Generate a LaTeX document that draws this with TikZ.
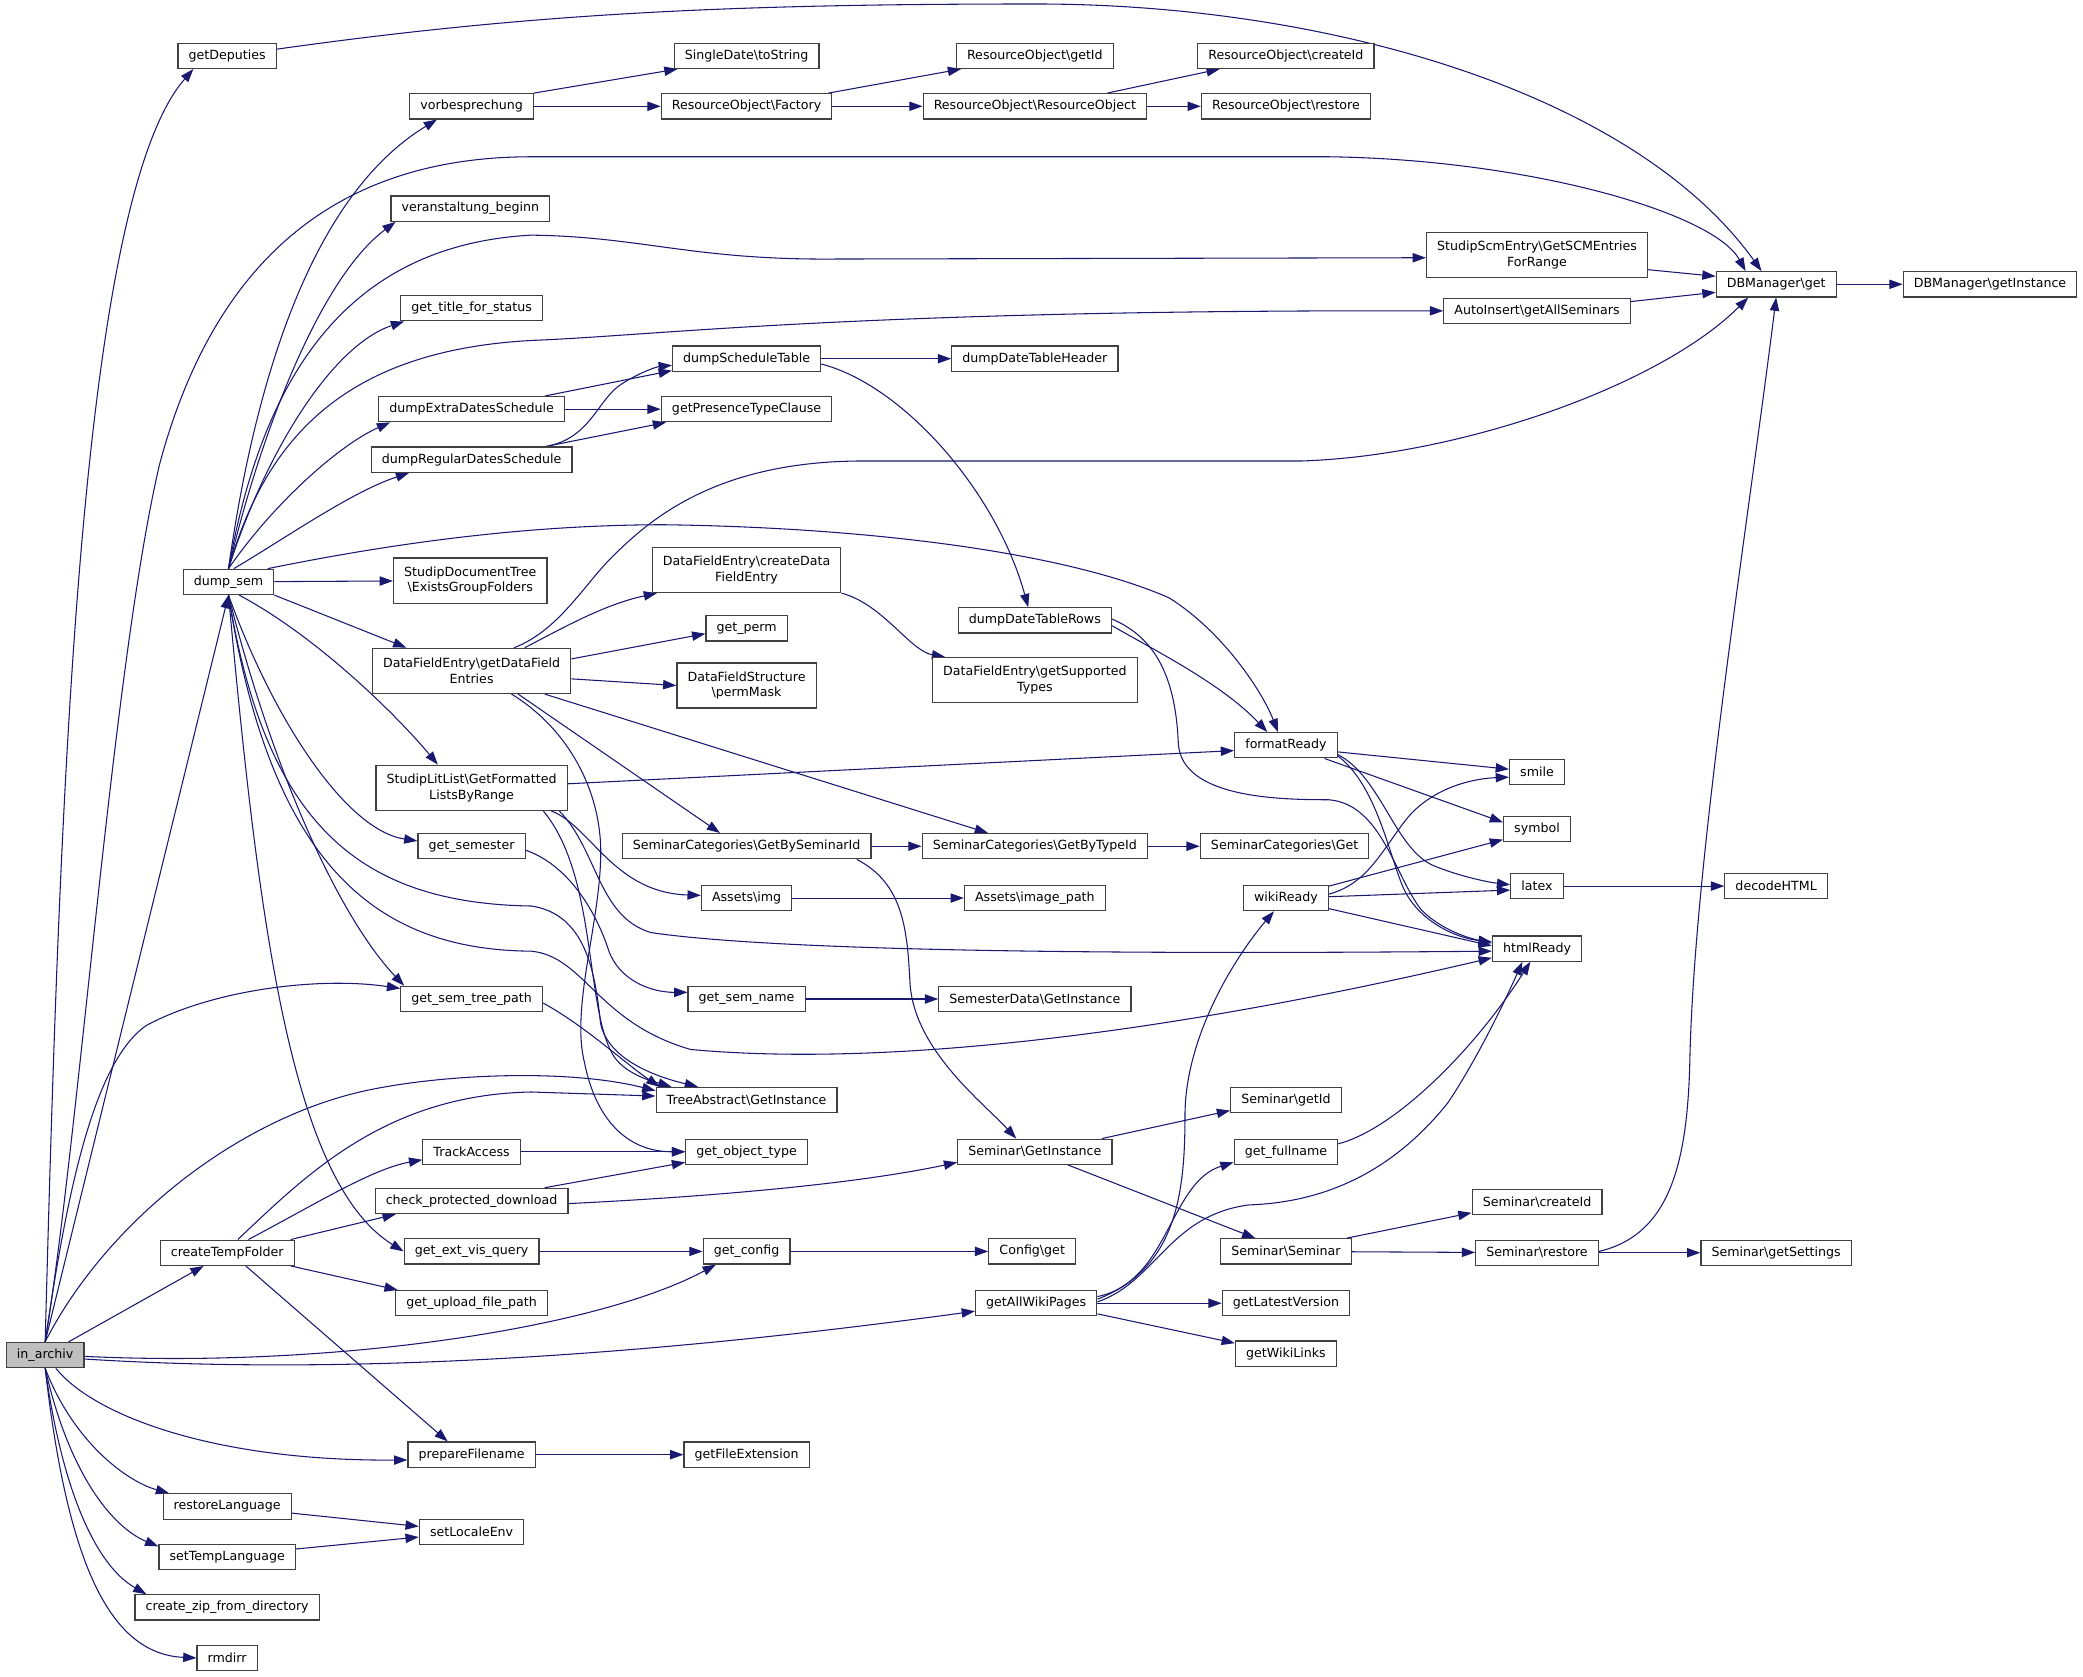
\documentclass[tikz,border=0pt]{standalone}
\usepackage{fontspec}
\setmainfont{DejaVu Sans}
\usepackage{tikz}
\usetikzlibrary{arrows.meta,positioning,backgrounds}
\definecolor{edgeblue}{RGB}{25,25,112}
\definecolor{callergray}{RGB}{191,191,191}
\newcommand{\bsl}{\textbackslash}
\tikzset{
  fn/.style={draw=black!75, line width=0.9pt, fill=white, inner xsep=8pt, inner ysep=2pt,
    minimum height=19pt, font=\fontsize{9.5}{12}\selectfont},
  fntwo/.style={fn, align=center, minimum height=34pt},
  call/.style={edgeblue, line width=0.8pt, -{Triangle[length=10pt,width=7pt]}},
}
\begin{document}
\begin{tikzpicture}[x=1pt,y=-1pt]
\useasboundingbox (0,0) rectangle (1568,1262);

	\node[fn,fill=callergray] (inarchiv) at (34,1020) {in\_archiv};

	\node[fn] (getDeputies) at (171,42) {getDeputies};
	\node[fn] (dumpsem) at (172,438) {dump\_sem};
	\node[fn] (createTempFolder) at (171,943) {createTempFolder};
	\node[fn] (restoreLanguage) at (171,1134) {restoreLanguage};
	\node[fn] (setTempLanguage) at (171,1172) {setTempLanguage};
	\node[fn] (createzip) at (171,1210) {create\_zip\_from\_directory};
	\node[fn] (rmdirr) at (171,1248) {rmdirr};

	\node[fn] (vorbesprechung) at (355,80) {vorbesprechung};
	\node[fn] (vbeginn) at (354,157) {veranstaltung\_beginn};
	\node[fn] (titlestatus) at (355,232) {get\_title\_for\_status};
	\node[fn] (extradates) at (355,308) {dumpExtraDatesSchedule};
	\node[fn] (regulardates) at (355,346) {dumpRegularDatesSchedule};
	\node[fntwo] (groupfolders) at (354,437) {StudipDocumentTree\\\bsl ExistsGroupFolders};
	\node[fntwo] (dfentries) at (355,505) {DataFieldEntry\bsl getDataField\\Entries};
	\node[fntwo] (litlist) at (355,593) {StudipLitList\bsl GetFormatted\\ListsByRange};
	\node[fn] (getsemester) at (355,637) {get\_semester};
	\node[fn] (semtreepath) at (355,752) {get\_sem\_tree\_path};
	\node[fn] (trackaccess) at (355,867) {TrackAccess};
	\node[fn] (checkdownload) at (355,904) {check\_protected\_download};
	\node[fn] (extvisquery) at (355,942) {get\_ext\_vis\_query};
	\node[fn] (uploadpath) at (355,981) {get\_upload\_file\_path};
	\node[fn] (preparefn) at (355,1095) {prepareFilename};
	\node[fn] (setlocale) at (355,1153) {setLocaleEnv};

	\node[fn] (toString) at (562,42) {SingleDate\bsl toString};
	\node[fn] (roFactory) at (562,80) {ResourceObject\bsl Factory};
	\node[fn] (scheduletable) at (562,270) {dumpScheduleTable};
	\node[fn] (presenceclause) at (562,308) {getPresenceTypeClause};
	\node[fntwo] (createdfe) at (562,429) {DataFieldEntry\bsl createData\\FieldEntry};
	\node[fn] (getperm) at (562,473) {get\_perm};
	\node[fntwo] (permmask) at (562,516) {DataFieldStructure\\\bsl permMask};
	\node[fn] (catbysem) at (562,637) {SeminarCategories\bsl GetBySeminarId};
	\node[fn] (assetsimg) at (562,676) {Assets\bsl img};
	\node[fn] (semname) at (562,752) {get\_sem\_name};
	\node[fn] (treeinst) at (562,828) {TreeAbstract\bsl GetInstance};
	\node[fn] (objecttype) at (562,867) {get\_object\_type};
	\node[fn] (getconfig) at (562,942) {get\_config};
	\node[fn] (fileext) at (562,1095) {getFileExtension};

	\node[fn] (roGetId) at (779,42) {ResourceObject\bsl getId};
	\node[fn] (roRO) at (779,80) {ResourceObject\bsl ResourceObject};
	\node[fn] (tableheader) at (779,270) {dumpDateTableHeader};
	\node[fn] (tablerows) at (779,467) {dumpDateTableRows};
	\node[fntwo] (supportedtypes) at (779,512) {DataFieldEntry\bsl getSupported\\Types};
	\node[fn] (catbytype) at (779,637) {SeminarCategories\bsl GetByTypeId};
	\node[fn] (imagepath) at (779,676) {Assets\bsl image\_path};
	\node[fn] (semdata) at (779,752) {SemesterData\bsl GetInstance};
	\node[fn] (seminst) at (779,867) {Seminar\bsl GetInstance};
	\node[fn] (configget) at (777,942) {Config\bsl get};
	\node[fn] (wikipages) at (780,981) {getAllWikiPages};

	\node[fn] (roCreateId) at (968,42) {ResourceObject\bsl createId};
	\node[fn] (roRestore) at (968,80) {ResourceObject\bsl restore};
	\node[fn] (formatready) at (968,561) {formatReady};
	\node[fn] (catget) at (967,637) {SeminarCategories\bsl Get};
	\node[fn] (wikiready) at (968,676) {wikiReady};
	\node[fn] (semgetid) at (968,828) {Seminar\bsl getId};
	\node[fn] (fullname) at (968,867) {get\_fullname};
	\node[fn] (semsem) at (968,942) {Seminar\bsl Seminar};
	\node[fn] (latestversion) at (968,981) {getLatestVersion};
	\node[fn] (wikilinks) at (968,1019) {getWikiLinks};

	\node[fntwo] (scmentries) at (1157,192) {StudipScmEntry\bsl GetSCMEntries\\ForRange};
	\node[fn] (allseminars) at (1157,234) {AutoInsert\bsl getAllSeminars};
	\node[fn] (smile) at (1157,581) {smile};
	\node[fn] (symbol) at (1157,624) {symbol};
	\node[fn] (latex) at (1157,667) {latex};
	\node[fn] (htmlready) at (1157,714) {htmlReady};
	\node[fn] (semcreateid) at (1157,905) {Seminar\bsl createId};
	\node[fn] (semrestore) at (1157,943) {Seminar\bsl restore};

	\node[fn] (dbget) at (1337,214) {DBManager\bsl get};
	\node[fn] (decodehtml) at (1337,667) {decodeHTML};
	\node[fn] (settings) at (1337,943) {Seminar\bsl getSettings};
	\node[fn] (dbinst) at (1498,214) {DBManager\bsl getInstance};

\begin{scope}[on background layer]
	% calls of in_archiv
	\draw[call] (inarchiv.north) .. controls (45,600) and (60,150) .. ([xshift=12pt]getDeputies.south west);
	\draw[call] (inarchiv.north) -- (dumpsem.south);
	\draw[call] (inarchiv.north) .. controls (60,850) and (85,500) .. (120,350) .. controls (160,200) and (250,118) .. (400,118) -- (1000,118) .. controls (1150,120) and (1290,160) .. ([xshift=-23pt]dbget.north);
	\draw[call] (inarchiv.north) .. controls (50,900) and (70,800) .. (110,772) .. controls (160,745) and (240,735) .. ([yshift=-2pt]semtreepath.north west);
	\draw[call] (inarchiv.north) .. controls (80,920) and (180,840) .. (280,820) .. controls (340,808) and (430,805) .. ([yshift=-3pt]treeinst.north west);
	\draw[call] (inarchiv) -- (createTempFolder);
	\draw[call] ([yshift=-1pt]inarchiv.east) .. controls (250,1030) and (450,1000) .. ([xshift=10pt]getconfig.south west);
	\draw[call] ([yshift=-3pt]inarchiv.east) .. controls (300,1038) and (550,1012) .. ([yshift=-6pt]wikipages.west);
	\draw[call] ([xshift=8pt]inarchiv.south) .. controls (70,1065) and (160,1100) .. ([yshift=-4pt]preparefn.west);
	\draw[call] (inarchiv.south) .. controls (55,1085) and (95,1115) .. ([xshift=5pt]restoreLanguage.north west);
	\draw[call] (inarchiv.south) .. controls (52,1110) and (85,1150) .. ([yshift=-2pt]setTempLanguage.north west);
	\draw[call] (inarchiv.south) .. controls (48,1130) and (75,1180) .. ([xshift=9pt]createzip.north west);
	\draw[call] (inarchiv.south) .. controls (50,1170) and (80,1245) .. (rmdirr.west);

	\draw[call] ([yshift=5pt]getDeputies.east) .. controls (400,10) and (550,3) .. (780,3) .. controls (1000,3) and (1230,70) .. ([xshift=-11pt]dbget.north);

	% calls of dump_sem
	\draw[call] (dumpsem.north) .. controls (190,300) and (230,150) .. ([xshift=-26pt]vorbesprechung.south);
	\draw[call] (dumpsem.north) .. controls (195,330) and (240,210) .. ([xshift=4pt]vbeginn.south west);
	\draw[call] (dumpsem.north) .. controls (195,300) and (250,185) .. (400,177) .. controls (480,178) and (520,195) .. (620,195) -- ([yshift=-2pt]scmentries.west);
	\draw[call] (dumpsem.north) .. controls (200,340) and (250,260) .. ([xshift=3pt]titlestatus.south west);
	\draw[call] (dumpsem.north) .. controls (200,330) and (260,262) .. (406,256) .. controls (500,252) and (650,233) .. (allseminars.west);
	\draw[call] (dumpsem.north) .. controls (205,380) and (255,335) .. ([xshift=9pt]extradates.south west);
	\draw[call] ([xshift=4pt]dumpsem.north) .. controls (215,405) and (265,370) .. ([xshift=29pt]regulardates.south west);
	\draw[call] ([xshift=-5pt]dumpsem.north east) .. controls (300,408) and (400,395) .. (500,395) .. controls (650,397) and (800,415) .. (880,450) .. controls (920,475) and (950,520) .. ([xshift=-6pt]formatready.north);
	\draw[call] (dumpsem) -- (groupfolders);
	\draw[call] (dumpsem.south east) -- ([xshift=26pt]dfentries.north west);
	\draw[call] ([xshift=8pt]dumpsem.south) .. controls (240,480) and (300,540) .. ([xshift=47pt]litlist.north west);
	\draw[call] (dumpsem.south) .. controls (205,540) and (260,625) .. ([yshift=4pt]getsemester.west);
	\draw[call] (dumpsem.south) .. controls (200,620) and (270,680) .. (400,682) .. controls (440,688) and (448,730) .. (452,770) .. controls (458,800) and (500,812) .. ([xshift=32pt]treeinst.north west);
	\draw[call] (dumpsem.south) .. controls (205,660) and (290,715) .. (400,716) .. controls (440,720) and (450,770) .. (520,790) .. controls (650,802) and (850,785) .. ([yshift=-7pt]htmlready.west);
	\draw[call] (dumpsem.south) .. controls (205,580) and (255,690) .. ([xshift=3pt]semtreepath.north west);
	\draw[call] (dumpsem.south) .. controls (195,700) and (220,890) .. (extvisquery.west);

	% DataFieldEntry
	\draw[call] ([xshift=32pt]dfentries.north) .. controls (420,475) and (440,440) .. (460,420) .. controls (490,390) and (540,347) .. (650,347) -- (980,347) .. controls (1100,343) and (1250,290) .. ([xshift=-21pt]dbget.south);
	\draw[call] ([xshift=40pt]dfentries.north) .. controls (425,472) and (455,455) .. ([xshift=4pt]createdfe.south west);
	\draw[call] ([yshift=9pt]dfentries.east) -- ([yshift=-4pt]getperm.west);
	\draw[call] ([yshift=-6pt]dfentries.east) -- (permmask.west);
	\draw[call] ([xshift=55pt]dfentries.south) -- ([xshift=50pt]catbytype.north west);
	\draw[call] ([xshift=35pt]dfentries.south) -- ([xshift=-20pt]catbysem.north);
	\draw[call] ([xshift=30pt]dfentries.south) .. controls (430,550) and (455,600) .. (452,650) .. controls (450,700) and (430,760) .. (440,800) .. controls (448,840) and (470,867) .. (objecttype.west);

	% StudipLitList
	\draw[call] ([yshift=3pt]litlist.east) -- ([yshift=-4pt]formatready.west);
	\draw[call] ([xshift=60pt]litlist.south) .. controls (445,622) and (462,672) .. ([yshift=2pt]assetsimg.west);
	\draw[call] ([xshift=66pt]litlist.south) .. controls (450,640) and (450,690) .. (490,702) .. controls (600,718) and (900,718) .. ([yshift=-2pt]htmlready.west);
	\draw[call] ([xshift=54pt]litlist.south) .. controls (450,660) and (440,760) .. (462,795) .. controls (472,810) and (495,815) .. ([xshift=12pt]treeinst.north west);

	\draw[call] ([yshift=-3pt]getsemester.east) .. controls (430,652) and (450,690) .. (458,715) .. controls (466,738) and (490,747) .. ([yshift=5pt]semname.west);
	\draw[call] ([yshift=-3pt]semtreepath.east) .. controls (440,772) and (470,800) .. ([xshift=3pt]treeinst.north west);

	% createTempFolder
	\draw[call] ([xshift=8pt]createTempFolder.north) .. controls (230,885) and (290,824) .. (400,822) -- ([yshift=-7pt]treeinst.north west);
	\draw[call] ([xshift=16pt]createTempFolder.north) .. controls (240,905) and (280,880) .. ([yshift=-6pt]trackaccess.west);
	\draw[call] ([xshift=-3pt]createTempFolder.north east) -- ([xshift=16pt]checkdownload.south west);
	\draw[call] ([xshift=-3pt]createTempFolder.south east) -- ([xshift=2pt]uploadpath.north west);
	\draw[call] ([xshift=14pt]createTempFolder.south) -- ([xshift=-18pt]preparefn.north);

	% ResourceObject
	\draw[call] (vorbesprechung.north east) -- ([xshift=3pt]toString.south west);
	\draw[call] (vorbesprechung) -- (roFactory);
	\draw[call] ([xshift=-3pt]roFactory.north east) -- ([xshift=4pt]roGetId.south west);
	\draw[call] (roFactory) -- (roRO);
	\draw[call] ([xshift=-30pt]roRO.north east) -- ([xshift=17pt]roCreateId.south west);
	\draw[call] (roRO) -- (roRestore);

	% schedules
	\draw[call] ([xshift=-15pt]extradates.north east) -- ([yshift=1pt]scheduletable.south west);
	\draw[call] ([xshift=-20pt]regulardates.north east) .. controls (445,330) and (450,300) .. (468,289) .. controls (482,280) and (495,276) .. ([yshift=5pt]scheduletable.south west);
	\draw[call] (extradates) -- (presenceclause);
	\draw[call] ([xshift=-20pt]regulardates.north east) -- ([xshift=4pt]presenceclause.south west);
	\draw[call] (scheduletable) -- (tableheader);
	\draw[call] ([yshift=-4pt]scheduletable.east) .. controls (680,290) and (750,370) .. ([xshift=-5pt]tablerows.north);
	\draw[call] ([yshift=-4pt]tablerows.east) .. controls (870,490) and (920,515) .. ([xshift=-14pt]formatready.north);
	\draw[call] ([yshift=1pt]tablerows.east) .. controls (870,480) and (885,510) .. (887,560) .. controls (890,600) and (960,602) .. (1000,602) .. controls (1040,605) and (1050,660) .. (1070,685) .. controls (1085,700) and (1105,706) .. ([yshift=4pt]htmlready.west);
	\draw[call] (createdfe.south east) .. controls (665,455) and (685,490) .. ([xshift=10pt]supportedtypes.north west);

	% categories, assets, semester
	\draw[call] (catbysem) -- (catbytype);
	\draw[call] (catbytype) -- (catget);
	\draw[call] ([xshift=83pt]catbysem.south) .. controls (680,665) and (683,700) .. (685,740) .. controls (688,790) and (740,830) .. ([xshift=-14pt]seminst.north);
	\draw[call] (assetsimg) -- (imagepath);
	\draw[call] (semname) -- (semdata);

	\draw[call] (trackaccess) -- (objecttype);
	\draw[call] ([xshift=-18pt]checkdownload.north east) -- ([yshift=2pt]objecttype.south west);
	\draw[call] ([yshift=-2pt]checkdownload.east) .. controls (550,900) and (650,890) .. ([yshift=2pt]seminst.south west);
	\draw[call] (extvisquery) -- (getconfig);
	\draw[call] (getconfig) -- (configget);
	\draw[call] (preparefn) -- (fileext);
	\draw[call] ([yshift=-5pt]restoreLanguage.east) -- ([yshift=4pt]setlocale.west);
	\draw[call] ([yshift=6pt]setTempLanguage.east) -- ([yshift=-4pt]setlocale.west);

	% formatting
	\draw[call] ([yshift=-5pt]formatready.east) -- ([yshift=2pt]smile.west);
	\draw[call] ([xshift=-10pt]formatready.south east) -- ([yshift=5pt]symbol.west);
	\draw[call] ([yshift=-7pt]formatready.east) .. controls (1040,585) and (1050,640) .. (1080,652) .. controls (1100,660) and (1120,664) .. ([yshift=1pt]latex.west);
	\draw[call] ([yshift=-8pt]formatready.east) .. controls (1035,590) and (1045,640) .. (1055,665) .. controls (1065,692) and (1095,706) .. ([yshift=5pt]htmlready.west);
	\draw[call] ([yshift=3pt]wikiready.east) .. controls (1030,665) and (1040,640) .. (1060,615) .. controls (1080,592) and (1110,586) .. ([yshift=-4pt]smile.west);
	\draw[call] ([yshift=9pt]wikiready.east) -- ([yshift=-8pt]symbol.west);
	\draw[call] ([yshift=1pt]wikiready.east) -- ([yshift=-3pt]latex.west);
	\draw[call] ([yshift=-8pt]wikiready.east) -- ([yshift=2pt]htmlready.west);
	\draw[call] (latex) -- (decodehtml);

	% wiki pages
	\draw[call] ([yshift=5pt]wikipages.east) .. controls (880,965) and (880,890) .. ([yshift=2pt]fullname.south west);
	\draw[call] ([yshift=3pt]wikipages.east) .. controls (885,955) and (892,900) .. (892,840) .. controls (892,780) and (930,720) .. ([xshift=-9pt]wikiready.south);
	\draw[call] ([yshift=1pt]wikipages.east) .. controls (870,965) and (880,915) .. (940,907) .. controls (1000,905) and (1050,880) .. (1090,830) .. controls (1110,800) and (1130,760) .. ([xshift=-11pt]htmlready.south);
	\draw[call] (wikipages) -- (latestversion);
	\draw[call] ([yshift=-8pt]wikipages.east) -- ([yshift=-2pt]wikilinks.north west);
	\draw[call] ([yshift=6pt]fullname.east) .. controls (1050,850) and (1110,790) .. ([xshift=-5pt]htmlready.south);

	% Seminar
	\draw[call] ([xshift=-8pt]seminst.north east) -- ([yshift=2pt]semgetid.south west);
	\draw[call] ([xshift=25pt]seminst.south) -- ([xshift=-23pt]semsem.north);
	\draw[call] ([xshift=-4pt]semsem.north east) -- ([yshift=2pt]semcreateid.south west);
	\draw[call] (semsem) -- (semrestore);
	\draw[call] (semrestore) -- (settings);
	\draw[call] ([yshift=1pt]semrestore.east) .. controls (1255,930) and (1270,880) .. (1272,800) .. controls (1275,650) and (1315,400) .. (dbget.south);

	% DBManager
	\draw[call] ([yshift=-11pt]scmentries.east) -- ([yshift=6pt]dbget.west);
	\draw[call] ([yshift=7pt]allseminars.east) -- ([yshift=-6pt]dbget.west);
	\draw[call] (dbget) -- (dbinst);
\end{scope}
\end{tikzpicture}
\end{document}
